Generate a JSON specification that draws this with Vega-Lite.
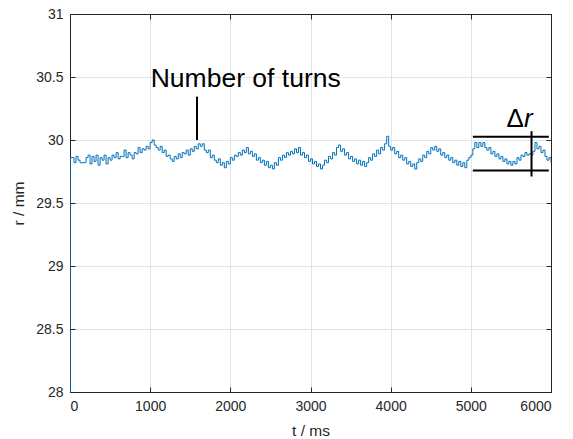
{
  "$schema": "https://vega.github.io/schema/vega-lite/v6.json",
  "width": 481,
  "height": 378,
  "autosize": "none",
  "padding": {"left": 70, "top": 14, "right": 22, "bottom": 47},
  "background": "white",
  "config": {
    "view": {"stroke": "#262626", "strokeWidth": 1},
    "font": "Liberation Sans",
    "axis": {
      "labelFont": "Liberation Sans",
      "titleFont": "Liberation Sans",
      "labelFontSize": 14,
      "titleFontSize": 15.5,
      "labelColor": "#262626",
      "titleColor": "#262626",
      "titleFontWeight": "normal",
      "domainColor": "#262626",
      "tickColor": "#262626",
      "gridColor": "#e3e3e3",
      "tickSize": -5
    }
  },
  "resolve": {"axis": {"x": "independent", "y": "independent"}},
  "datasets": {
    "signal": [
      {"t":0,"r":28.0},{"t":3,"r":29.86},{"t":25,"r":29.86},{"t":50,"r":29.82},{"t":75,"r":29.87},{"t":100,"r":29.84},{"t":125,"r":29.82},{"t":150,"r":29.82},{"t":175,"r":29.82},{"t":200,"r":29.86},{"t":225,"r":29.88},{"t":250,"r":29.81},{"t":275,"r":29.87},{"t":300,"r":29.83},{"t":325,"r":29.88},{"t":350,"r":29.80},{"t":375,"r":29.86},{"t":400,"r":29.84},{"t":425,"r":29.88},{"t":450,"r":29.81},{"t":475,"r":29.86},{"t":500,"r":29.84},
      {"t":525,"r":29.88},{"t":550,"r":29.86},{"t":575,"r":29.90},{"t":600,"r":29.85},{"t":625,"r":29.87},{"t":650,"r":29.87},{"t":675,"r":29.92},{"t":700,"r":29.86},{"t":725,"r":29.90},{"t":750,"r":29.88},{"t":775,"r":29.85},{"t":800,"r":29.90},{"t":825,"r":29.89},{"t":850,"r":29.94},{"t":875,"r":29.90},{"t":900,"r":29.93},{"t":925,"r":29.92},{"t":950,"r":29.95},{"t":975,"r":29.93},{"t":1000,"r":29.98},
      {"t":1025,"r":30.00},{"t":1050,"r":29.96},{"t":1075,"r":29.94},{"t":1100,"r":29.92},{"t":1125,"r":29.95},{"t":1150,"r":29.90},{"t":1175,"r":29.92},{"t":1200,"r":29.87},{"t":1225,"r":29.88},{"t":1250,"r":29.85},{"t":1275,"r":29.83},{"t":1300,"r":29.87},{"t":1325,"r":29.85},{"t":1350,"r":29.89},{"t":1375,"r":29.86},{"t":1400,"r":29.90},{"t":1425,"r":29.89},{"t":1450,"r":29.92},{"t":1475,"r":29.88},{"t":1500,"r":29.93},
      {"t":1525,"r":29.91},{"t":1550,"r":29.95},{"t":1575,"r":29.93},{"t":1600,"r":29.97},{"t":1625,"r":29.95},{"t":1650,"r":29.97},{"t":1675,"r":29.92},{"t":1700,"r":29.90},{"t":1725,"r":29.92},{"t":1750,"r":29.86},{"t":1775,"r":29.88},{"t":1800,"r":29.84},{"t":1825,"r":29.82},{"t":1850,"r":29.85},{"t":1875,"r":29.80},{"t":1900,"r":29.82},{"t":1925,"r":29.78},{"t":1950,"r":29.83},{"t":1975,"r":29.81},{"t":2000,"r":29.86},
      {"t":2025,"r":29.84},{"t":2050,"r":29.88},{"t":2075,"r":29.87},{"t":2100,"r":29.90},{"t":2125,"r":29.88},{"t":2150,"r":29.92},{"t":2175,"r":29.90},{"t":2200,"r":29.94},{"t":2225,"r":29.89},{"t":2250,"r":29.91},{"t":2275,"r":29.87},{"t":2300,"r":29.89},{"t":2325,"r":29.84},{"t":2350,"r":29.86},{"t":2375,"r":29.82},{"t":2400,"r":29.84},{"t":2425,"r":29.80},{"t":2450,"r":29.83},{"t":2475,"r":29.78},{"t":2500,"r":29.80},
      {"t":2525,"r":29.77},{"t":2550,"r":29.82},{"t":2575,"r":29.80},{"t":2600,"r":29.86},{"t":2625,"r":29.84},{"t":2650,"r":29.88},{"t":2675,"r":29.86},{"t":2700,"r":29.90},{"t":2725,"r":29.88},{"t":2750,"r":29.91},{"t":2775,"r":29.89},{"t":2800,"r":29.93},{"t":2825,"r":29.90},{"t":2850,"r":29.94},{"t":2875,"r":29.88},{"t":2900,"r":29.90},{"t":2925,"r":29.86},{"t":2950,"r":29.88},{"t":2975,"r":29.83},{"t":3000,"r":29.85},
      {"t":3025,"r":29.81},{"t":3050,"r":29.83},{"t":3075,"r":29.79},{"t":3100,"r":29.81},{"t":3125,"r":29.77},{"t":3150,"r":29.80},{"t":3175,"r":29.84},{"t":3200,"r":29.82},{"t":3225,"r":29.87},{"t":3250,"r":29.85},{"t":3275,"r":29.90},{"t":3300,"r":29.88},{"t":3325,"r":29.94},{"t":3350,"r":29.96},{"t":3375,"r":29.91},{"t":3400,"r":29.93},{"t":3425,"r":29.88},{"t":3450,"r":29.90},{"t":3475,"r":29.85},{"t":3500,"r":29.87},
      {"t":3525,"r":29.83},{"t":3550,"r":29.85},{"t":3575,"r":29.81},{"t":3600,"r":29.84},{"t":3625,"r":29.80},{"t":3650,"r":29.83},{"t":3675,"r":29.79},{"t":3700,"r":29.82},{"t":3725,"r":29.86},{"t":3750,"r":29.84},{"t":3775,"r":29.89},{"t":3800,"r":29.87},{"t":3825,"r":29.92},{"t":3850,"r":29.89},{"t":3875,"r":29.94},{"t":3900,"r":29.92},{"t":3925,"r":29.97},{"t":3950,"r":30.03},{"t":3975,"r":29.95},{"t":4000,"r":29.92},
      {"t":4025,"r":29.94},{"t":4050,"r":29.89},{"t":4075,"r":29.91},{"t":4100,"r":29.86},{"t":4125,"r":29.88},{"t":4150,"r":29.84},{"t":4175,"r":29.86},{"t":4200,"r":29.81},{"t":4225,"r":29.83},{"t":4250,"r":29.79},{"t":4275,"r":29.81},{"t":4300,"r":29.77},{"t":4325,"r":29.82},{"t":4350,"r":29.85},{"t":4375,"r":29.83},{"t":4400,"r":29.88},{"t":4425,"r":29.86},{"t":4450,"r":29.91},{"t":4475,"r":29.89},{"t":4500,"r":29.94},
      {"t":4525,"r":29.92},{"t":4550,"r":29.95},{"t":4575,"r":29.91},{"t":4600,"r":29.93},{"t":4625,"r":29.88},{"t":4650,"r":29.90},{"t":4675,"r":29.86},{"t":4700,"r":29.88},{"t":4725,"r":29.84},{"t":4750,"r":29.86},{"t":4775,"r":29.82},{"t":4800,"r":29.84},{"t":4825,"r":29.80},{"t":4850,"r":29.83},{"t":4875,"r":29.79},{"t":4900,"r":29.82},{"t":4925,"r":29.78},{"t":4950,"r":29.84},{"t":4975,"r":29.86},{"t":5000,"r":29.88},
      {"t":5025,"r":29.93},{"t":5050,"r":29.98},{"t":5075,"r":29.94},{"t":5100,"r":29.98},{"t":5125,"r":29.95},{"t":5150,"r":29.98},{"t":5175,"r":29.94},{"t":5200,"r":29.92},{"t":5225,"r":29.94},{"t":5250,"r":29.89},{"t":5275,"r":29.91},{"t":5300,"r":29.87},{"t":5325,"r":29.89},{"t":5350,"r":29.85},{"t":5375,"r":29.87},{"t":5400,"r":29.83},{"t":5425,"r":29.85},{"t":5450,"r":29.81},{"t":5475,"r":29.83},{"t":5500,"r":29.80},
      {"t":5525,"r":29.83},{"t":5550,"r":29.81},{"t":5575,"r":29.86},{"t":5600,"r":29.84},{"t":5625,"r":29.88},{"t":5650,"r":29.87},{"t":5675,"r":29.90},{"t":5700,"r":29.88},{"t":5725,"r":29.89},{"t":5750,"r":29.88},{"t":5775,"r":29.91},{"t":5800,"r":29.98},{"t":5825,"r":29.93},{"t":5850,"r":29.95},{"t":5875,"r":29.90},{"t":5900,"r":29.92},{"t":5925,"r":29.87},{"t":5950,"r":29.84},{"t":5975,"r":29.86},{"t":6000,"r":29.82}
    ],
    "segments": [
      {"t1":1584,"r1":30.344,"t2":1584,"r2":30.0},
      {"t1":5025,"r1":30.026,"t2":5973,"r2":30.026},
      {"t1":5025,"r1":29.757,"t2":5973,"r2":29.757},
      {"t1":5757,"r1":30.07,"t2":5757,"r2":29.71}
    ],
    "labels": [
      {"t":2192,"r":30.423,"txt":"Number of turns","al":"center"},
      {"t":5663,"r":30.106,"txt":"Δ","al":"right"},
      {"t":5663,"r":30.106,"txt":"r","al":"left"}
    ]
  },
  "layer": [
    {
      "data": {"name": "signal"},
      "mark": {"type": "line", "color": "#0072BD", "strokeWidth": 1, "interpolate": "step-after", "clip": true},
      "encoding": {
        "x": {"field": "t", "type": "quantitative", "scale": {"domain": [0, 6000], "nice": false},
          "axis": {"title": "t / ms", "values": [0,1000,2000,3000,4000,5000,6000], "format": "d", "grid": true, "labelPadding": 12, "titlePadding": 10}},
        "y": {"field": "r", "type": "quantitative", "scale": {"domain": [28, 31], "nice": false, "zero": false},
          "axis": {"title": "r / mm", "values": [28,28.5,29,29.5,30,30.5,31], "format": "~g", "grid": true, "labelPadding": 12, "titlePadding": 9}}
      }
    },
    {
      "data": {"name": "segments"},
      "mark": {"type": "rule", "color": "black", "strokeWidth": 2},
      "encoding": {
        "x": {"field": "t1", "type": "quantitative", "axis": {"orient": "top", "values": [0,1000,2000,3000,4000,5000,6000], "labels": false, "grid": false, "title": null}},
        "x2": {"field": "t2"},
        "y": {"field": "r1", "type": "quantitative", "axis": {"orient": "right", "values": [28,28.5,29,29.5,30,30.5,31], "labels": false, "grid": false, "title": null}},
        "y2": {"field": "r2"}
      }
    },
    {
      "data": {"name": "labels"},
      "transform": [{"filter": "datum.al == 'center'"}],
      "mark": {"type": "text", "fontSize": 26.5, "font": "Liberation Sans", "color": "black", "align": "center", "baseline": "alphabetic"},
      "encoding": {
        "x": {"field": "t", "type": "quantitative", "axis": null},
        "y": {"field": "r", "type": "quantitative", "axis": null},
        "text": {"field": "txt"}
      }
    },
    {
      "data": {"name": "labels"},
      "transform": [{"filter": "datum.al == 'right'"}],
      "mark": {"type": "text", "fontSize": 26, "font": "Liberation Sans", "color": "black", "align": "right", "baseline": "alphabetic"},
      "encoding": {
        "x": {"field": "t", "type": "quantitative", "axis": null},
        "y": {"field": "r", "type": "quantitative", "axis": null},
        "text": {"field": "txt"}
      }
    },
    {
      "data": {"name": "labels"},
      "transform": [{"filter": "datum.al == 'left'"}],
      "mark": {"type": "text", "fontSize": 26, "font": "Liberation Sans", "fontStyle": "italic", "color": "black", "align": "left", "baseline": "alphabetic"},
      "encoding": {
        "x": {"field": "t", "type": "quantitative", "axis": null},
        "y": {"field": "r", "type": "quantitative", "axis": null},
        "text": {"field": "txt"}
      }
    }
  ]
}
